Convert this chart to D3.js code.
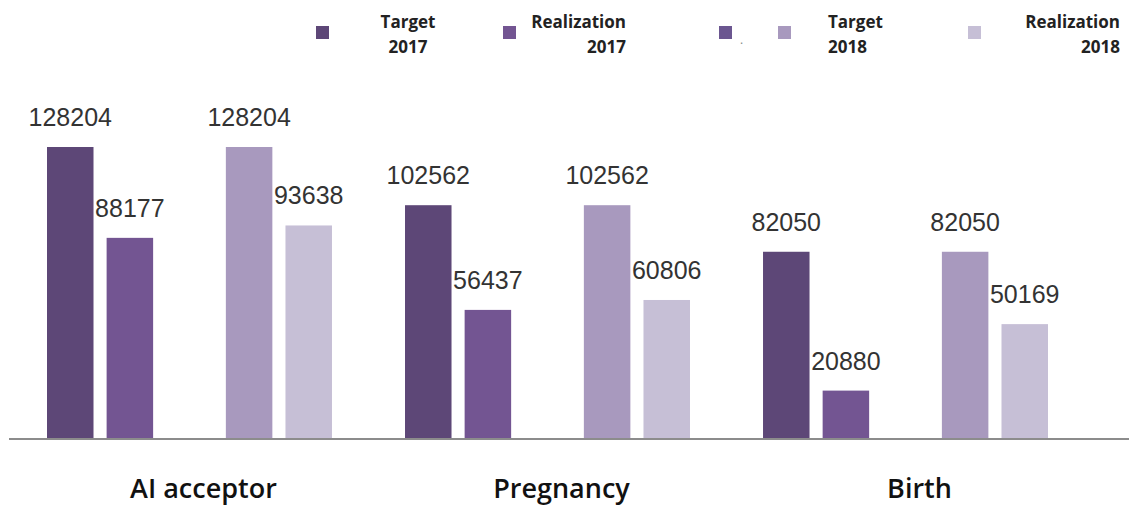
<!DOCTYPE html>
<html>
<head>
<meta charset="utf-8">
<script src="https://cdn.jsdelivr.net/npm/d3@7"></script>
<style>
  html, body { margin: 0; padding: 0; background: #ffffff; }
  svg { display: block; }
</style>
</head>
<body>
<svg id="chart" width="1129" height="506"></svg>
<script>
// ---- data ----
const categories = ["AI acceptor", "Pregnancy", "Birth"];
const seriesKeys = ["t2017", "r2017", "gap", "t2018", "r2018"];
const legendLabels = [["Target", "2017"], ["Realization", "2017"], ["."], ["Target", "2018"], ["Realization", "2018"]];
const target2017 = [128204, 102562, 82050];
const realization2017 = [88177, 56437, 20880];
const gapSeries = [null, null, null];
const target2018 = [128204, 102562, 82050];
const realization2018 = [93638, 60806, 50169];
const seriesColors = ["#5d4777", "#735592", "#6b5690", "#a899be", "#c6bfd6"];

const seriesValues = [target2017, realization2017, gapSeries, target2018, realization2018];

const svg = d3.select("#chart");

const x0 = d3.scaleBand()
  .domain(categories)
  .range([47, 1048])
  .paddingInner(0.204)
  .paddingOuter(0);

const x1 = d3.scaleBand()
  .domain(seriesKeys)
  .range([0, x0.bandwidth()])
  .paddingInner(0.22)
  .paddingOuter(0);

const y = d3.scaleLinear()
  .domain([0, 128204])
  .range([438, 147]);

const color = d3.scaleOrdinal().domain(seriesKeys).range(seriesColors);

// flatten
const bars = [];
categories.forEach((c, ci) => {
  seriesKeys.forEach((k, si) => {
    const v = seriesValues[si][ci];
    if (v != null) bars.push({ cat: c, key: k, value: v });
  });
});

// bars
svg.append("g").selectAll("rect")
  .data(bars)
  .join("rect")
  .attr("x", d => x0(d.cat) + x1(d.key))
  .attr("y", d => y(d.value))
  .attr("width", x1.bandwidth())
  .attr("height", d => y(0) - y(d.value))
  .attr("fill", d => color(d.key));

// value labels
svg.append("g").selectAll("text")
  .data(bars)
  .join("text")
  .attr("x", d => x0(d.cat) + x1(d.key) + x1.bandwidth() / 2)
  .attr("y", d => y(d.value) - 21)
  .attr("text-anchor", "middle")
  .attr("font-family", "'Liberation Sans', Arial, sans-serif")
  .attr("font-size", 25)
  .attr("fill", "#333333")
  .text(d => d.value);

// baseline axis
const xAxis = d3.axisBottom(x0).tickSize(0).tickPadding(0).tickFormat("");
const axisG = svg.append("g")
  .attr("transform", `translate(0,${y(0) + 1})`)
  .call(xAxis);
axisG.select(".domain").remove();
axisG.append("line")
  .attr("x1", 9).attr("x2", 1129)
  .attr("y1", 0).attr("y2", 0)
  .attr("stroke", "#8c8c8c")
  .attr("stroke-width", 2);

// category labels
svg.append("g").selectAll("text")
  .data(categories)
  .join("text")
  .attr("x", d => x0(d) + x0.bandwidth() / 2 + 14)
  .attr("y", 498)
  .attr("text-anchor", "middle")
  .attr("font-family", "'Open Sans', sans-serif")
  .attr("font-weight", 600)
  .attr("font-size", 27)
  .attr("fill", "#111111")
  .text(d => d);

// legend
const legendLayout = [
  { sx: 316, tx: 408, anchor: "middle" },
  { sx: 503, tx: 626, anchor: "end" },
  { sx: 719, tx: 740, anchor: "start" },
  { sx: 778, tx: 828, anchor: "start" },
  { sx: 968, tx: 1120, anchor: "end" }
];
const lg = svg.append("g");
seriesKeys.forEach((k, i) => {
  const L = legendLayout[i];
  lg.append("rect")
    .attr("x", L.sx).attr("y", 26)
    .attr("width", 13).attr("height", 13)
    .attr("fill", color(k));
  const t = lg.append("text")
    .attr("text-anchor", L.anchor)
    .attr("font-family", "'Open Sans', sans-serif")
    .attr("font-weight", 700)
    .attr("font-size", 17)
    .attr("fill", "#222222");
  const lines = legendLabels[i];
  if (lines.length === 1) {
    t.attr("x", L.tx).attr("y", 44).attr("font-size", 12).attr("font-weight", 400).attr("fill", "#888").text(lines[0]);
  } else {
    lines.forEach((ln, j) => {
      t.append("tspan").attr("x", L.tx).attr("y", 28 + j * 25).text(ln);
    });
  }
});
</script>
</body>
</html>
